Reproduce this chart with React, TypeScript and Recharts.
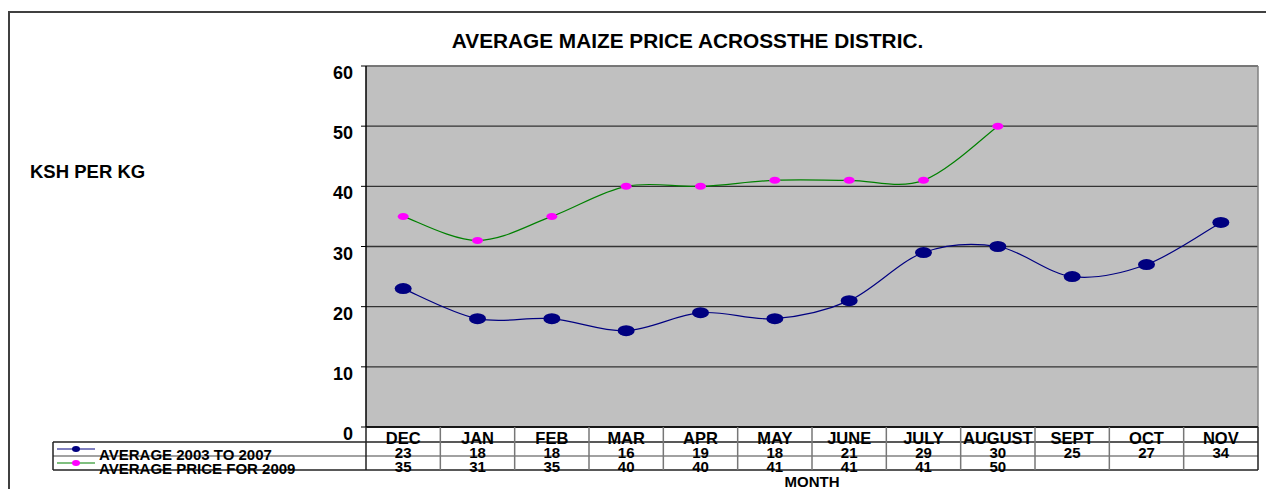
import React from 'react';
import { LineChart, Line, XAxis, YAxis, CartesianGrid, Customized } from 'recharts';

const months = ['DEC', 'JAN', 'FEB', 'MAR', 'APR', 'MAY', 'JUNE', 'JULY', 'AUGUST', 'SEPT', 'OCT', 'NOV'];
const avg2003to2007 = [23, 18, 18, 16, 19, 18, 21, 29, 30, 25, 27, 34];
const price2009: (number | null)[] = [35, 31, 35, 40, 40, 41, 41, 41, 50, null, null, null];
const yTicks = [0, 10, 20, 30, 40, 50, 60];
const seriesNames = ['AVERAGE 2003 TO 2007', 'AVERAGE PRICE FOR 2009'];
const titleText = 'AVERAGE MAIZE PRICE ACROSSTHE DISTRIC.';
const yLabelText = 'KSH PER KG';
const xLabelText = 'MONTH';

const data = months.map((m, i) => ({ month: m, avg: avg2003to2007[i], p2009: price2009[i] }));

const W = 1266;
const H = 489;
const PL = 366;
const PR = 1258;
const PT = 66;
const PB = 427;
const Y_AXIS_W = 60;
const X_AXIS_H = 45;
const colW = (PR - PL) / months.length;
const FONT = '"Liberation Sans", Arial, sans-serif';
const NAVY = '#000080';
const MAGENTA = '#FF00FF';
const GREEN = '#008000';
const ROW1 = 442;
const ROW2 = 456;
const ROW3 = 470;
const TABLE_LEFT = 53;

function excelCurve(context: any) {
  let pts: [number, number][] = [];
  return {
    areaStart() {},
    areaEnd() {},
    lineStart() {
      pts = [];
    },
    point(x: number, y: number) {
      pts.push([+x, +y]);
    },
    lineEnd() {
      const n = pts.length;
      if (!n) return;
      context.moveTo(pts[0][0], pts[0][1]);
      for (let i = 0; i < n - 1; i++) {
        const p0 = pts[i - 1] || pts[i];
        const p1 = pts[i];
        const p2 = pts[i + 1];
        const p3 = pts[i + 2] || p2;
        const c1x = p1[0] + (p2[0] - p0[0]) / 6;
        const c1y = p1[1] + (p2[1] - p0[1]) / 6;
        const c2x = p2[0] - (p3[0] - p1[0]) / 6;
        const c2y = p2[1] - (p3[1] - p1[1]) / 6;
        context.bezierCurveTo(c1x, c1y, c2x, c2y, p2[0], p2[1]);
      }
    },
  };
}

const NavyDot = (props: any) => {
  const { cx, cy } = props;
  if (cx == null || cy == null) return null;
  return <ellipse cx={cx} cy={cy} rx={8.5} ry={5.5} fill={NAVY} />;
};

const MagentaDot = (props: any) => {
  const { cx, cy } = props;
  if (cx == null || cy == null) return null;
  return <ellipse cx={cx} cy={cy} rx={5.5} ry={3.5} fill={MAGENTA} />;
};

const YTick = (props: any) => {
  const { x, y, payload } = props;
  return (
    <text x={x} y={y + 13} textAnchor="end" fontFamily={FONT} fontWeight="bold" fontSize={18} fill="#000">
      {payload.value}
    </text>
  );
};

const XTick = (props: any) => {
  const { x, index } = props;
  const left = x - colW / 2;
  const right = x + colW / 2;
  const v1 = avg2003to2007[index];
  const v2 = price2009[index];
  const txt = { fontFamily: FONT, fontWeight: 'bold' as const, fill: '#000', textAnchor: 'middle' as const };
  return (
    <g>
      {index === 0 && (
        <g>
          <line x1={TABLE_LEFT} y1={ROW1} x2={PR} y2={ROW1} stroke="#222" strokeWidth={1.5} />
          <line x1={TABLE_LEFT} y1={ROW2} x2={PR} y2={ROW2} stroke="#444" strokeWidth={1.2} />
          <line x1={TABLE_LEFT} y1={ROW3} x2={PR} y2={ROW3} stroke="#222" strokeWidth={1.5} />
          <line x1={TABLE_LEFT} y1={ROW1} x2={TABLE_LEFT} y2={ROW3} stroke="#222" strokeWidth={1.5} />
          <line x1={57} y1={449} x2={95} y2={449} stroke={NAVY} strokeWidth={1.2} />
          <ellipse cx={76} cy={449} rx={4} ry={3} fill={NAVY} />
          <line x1={57} y1={463} x2={95} y2={463} stroke={GREEN} strokeWidth={1.2} />
          <ellipse cx={76} cy={463} rx={4} ry={3} fill={MAGENTA} />
          <text x={99} y={460} fontFamily={FONT} fontWeight="bold" fontSize={15} fill="#000">{seriesNames[0]}</text>
          <text x={99} y={474} fontFamily={FONT} fontWeight="bold" fontSize={15} fill="#000">{seriesNames[1]}</text>
        </g>
      )}
      <line x1={left} y1={PB} x2={left} y2={ROW3} stroke={index === 0 ? '#222' : '#777'} strokeWidth={1.5} />
      {index === months.length - 1 && (
        <line x1={right} y1={PB} x2={right} y2={ROW3} stroke="#222" strokeWidth={1.5} />
      )}
      <text x={x} y={444} fontSize={16.5} {...txt}>{months[index]}</text>
      {v1 != null && <text x={x} y={458} fontSize={15} {...txt}>{v1}</text>}
      {v2 != null && <text x={x} y={472} fontSize={15} {...txt}>{v2}</text>}
    </g>
  );
};

const Decorations = () => (
  <g>
    <line x1={PR} y1={PT} x2={PR} y2={PB} stroke="#808080" strokeWidth={1.5} />
    <line x1={PL} y1={PT} x2={PR} y2={PT} stroke="#808080" strokeWidth={1.5} />
    <text x={687.5} y={48} textAnchor="middle" fontFamily={FONT} fontWeight="bold" fontSize={20.8} fill="#000">{titleText}</text>
    <text x={30} y={178} fontFamily={FONT} fontWeight="bold" fontSize={18.5} fill="#000">{yLabelText}</text>
    <text x={(PL + PR) / 2} y={487} textAnchor="middle" fontFamily={FONT} fontWeight="bold" fontSize={15} fill="#000">{xLabelText}</text>
  </g>
);

export default function App() {
  return (
    <div style={{ position: 'absolute', left: 0, top: 0, width: W, height: H, overflow: 'hidden', background: '#fff' }}>
      <div
        style={{
          position: 'absolute',
          left: 8,
          top: 11,
          width: 1400,
          height: 700,
          borderTop: '2px solid #404040',
          borderLeft: '2px solid #404040',
        }}
      />
      <div style={{ position: 'absolute', left: 0, top: 0 }}>
        <LineChart
          width={W}
          height={H}
          data={data}
          margin={{ top: PT, left: PL - Y_AXIS_W, right: W - PR, bottom: H - PB - X_AXIS_H }}
        >
          <CartesianGrid horizontal vertical={false} stroke="#333" strokeWidth={1.3} fill="#C0C0C0" fillOpacity={1} />
          <XAxis
            dataKey="month"
            scale="band"
            interval={0}
            height={X_AXIS_H}
            axisLine={{ stroke: '#000', strokeWidth: 1.5 }}
            tickLine={false}
            tick={<XTick />}
          />
          <YAxis
            domain={[0, 60]}
            ticks={yTicks}
            width={Y_AXIS_W}
            tickSize={5}
            tickMargin={8}
            axisLine={{ stroke: '#000', strokeWidth: 1.5 }}
            tickLine={{ stroke: '#000' }}
            tick={<YTick />}
          />
          <Customized component={<Decorations />} />
          <Line
            dataKey="avg"
            type={excelCurve as any}
            stroke={NAVY}
            strokeWidth={1.2}
            dot={<NavyDot />}
            activeDot={false}
            isAnimationActive={false}
          />
          <Line
            dataKey="p2009"
            type={excelCurve as any}
            stroke={GREEN}
            strokeWidth={1.2}
            dot={<MagentaDot />}
            activeDot={false}
            isAnimationActive={false}
          />
        </LineChart>
      </div>
    </div>
  );
}
